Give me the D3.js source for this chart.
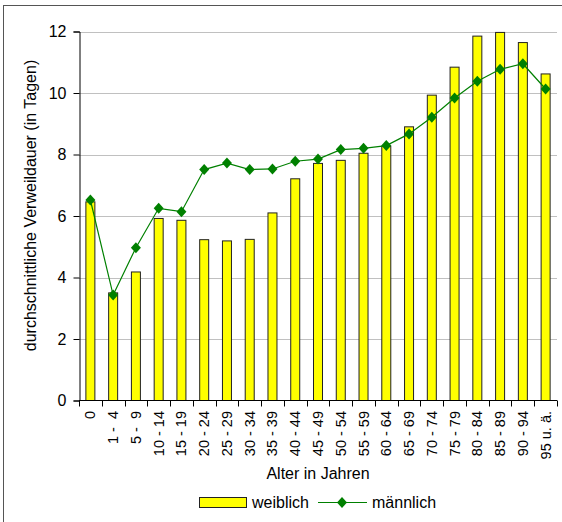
<!DOCTYPE html>
<html><head><meta charset="utf-8">
<script src="https://cdn.jsdelivr.net/npm/d3@7"></script>
<style>body{margin:0;background:#fff}svg{display:block;font-family:"Liberation Sans",Arial,sans-serif}</style>
</head><body><svg id="c" width="562" height="522"></svg>
<script>
const categories = ["0","1 -  4","5 -  9","10 - 14","15 - 19","20 - 24","25 - 29","30 - 34","35 - 39","40 - 44","45 - 49","50 - 54","55 - 59","60 - 64","65 - 69","70 - 74","75 - 79","80 - 84","85 - 89","90 - 94","95 u. ä."];
const weiblich = [6.46,3.5,4.18,5.92,5.86,5.23,5.19,5.24,6.1,7.21,7.71,7.81,8.04,8.27,8.9,9.93,10.84,11.85,11.97,11.64,10.62];
const maennlich = [6.52,3.43,4.97,6.25,6.14,7.51,7.72,7.51,7.53,7.78,7.85,8.16,8.2,8.29,8.67,9.21,9.84,10.38,10.77,10.95,10.13];
const yTicks = [0,2,4,6,8,10,12];
const seriesNames = ["weiblich","männlich"];

const svg = d3.select("#c");
const L=79, R=557, T=31.5, B=400.5;
const x = d3.scaleBand().domain(categories).range([L,R]).paddingInner(0).paddingOuter(0);
const y = d3.scaleLinear().domain([0,12]).range([B,T]);

// outer frame
svg.append("rect").attr("x",3.5).attr("y",5.5).attr("width",700).attr("height",600)
  .attr("fill","none").attr("stroke","#555").attr("stroke-width",1);

// gridlines
svg.append("g").selectAll("line").data(yTicks.filter(d=>d>0)).join("line")
  .attr("x1",L).attr("x2",R).attr("y1",d=>Math.round(y(d))+0.5).attr("y2",d=>Math.round(y(d))+0.5)
  .attr("stroke","#c0c0c0").attr("stroke-width",1);

// bars
const bw = 9;
svg.append("g").selectAll("rect").data(categories).join("rect")
  .attr("x",(d)=>x(d)+x.bandwidth()/2-bw/2)
  .attr("y",(d,i)=>y(weiblich[i]))
  .attr("width",bw)
  .attr("height",(d,i)=>B-y(weiblich[i]))
  .attr("fill","#ffff00").attr("stroke","#222").attr("stroke-width",1);

// y axis
const yAxis = d3.axisLeft(y).tickValues(yTicks).tickSize(6).tickPadding(7).tickFormat(d3.format("d"));
const gy = svg.append("g").attr("transform",`translate(${L+0.5},0)`).call(yAxis);
gy.select(".domain").attr("stroke","#000");
gy.selectAll(".tick line").attr("stroke","#000");
gy.selectAll("text").attr("font-size",16).attr("fill","#000").attr("font-family","Liberation Sans, Arial, sans-serif");

// x axis
const gx = svg.append("g").attr("transform",`translate(0,${B})`);
gx.append("line").attr("x1",L).attr("x2",R).attr("y1",0).attr("y2",0).attr("stroke","#000");
const bounds = categories.map(c=>x(c)).concat([R]);
gx.selectAll("line.t").data(bounds).join("line").attr("class","t")
  .attr("x1",d=>Math.round(d)+0.5).attr("x2",d=>Math.round(d)+0.5).attr("y1",0).attr("y2",6).attr("stroke","#000");
gx.selectAll("text").data(categories).join("text")
  .attr("transform",d=>`translate(${x(d)+x.bandwidth()/2+5},10.5) rotate(-90)`)
  .attr("text-anchor","end").attr("font-size",14.5).attr("fill","#000")
  .style("white-space","pre").attr("xml:space","preserve")
  .text(d=>d);

// line
const line = d3.line().x((d,i)=>x(categories[i])+x.bandwidth()/2).y(d=>y(d));
svg.append("path").datum(maennlich).attr("d",line).attr("fill","none").attr("stroke","#008000").attr("stroke-width",1.2);
const diamond = "M0,-5.5L5,0L0,5.5L-5,0Z";
svg.append("g").selectAll("path").data(maennlich).join("path")
  .attr("transform",(d,i)=>`translate(${x(categories[i])+x.bandwidth()/2},${y(d)})`)
  .attr("d",diamond).attr("fill","#008000");

// axis titles
svg.append("text").attr("transform",`translate(35.5,205.5) rotate(-90)`).attr("text-anchor","middle")
  .attr("font-size",16).attr("fill","#000").text("durchschnittliche Verweildauer (in Tagen)");
svg.append("text").attr("x",(L+R)/2).attr("y",479).attr("text-anchor","middle")
  .attr("font-size",16).attr("fill","#000").text("Alter in Jahren");

// legend
const lg = svg.append("g");
lg.append("rect").attr("x",199.5).attr("y",497.5).attr("width",47).attr("height",10).attr("fill","#ffff00").attr("stroke","#222");
lg.append("text").attr("x",252).attr("y",508).attr("font-size",16).attr("fill","#000").text(seriesNames[0]);
lg.append("line").attr("x1",318).attr("x2",367).attr("y1",502.5).attr("y2",502.5).attr("stroke","#008000").attr("stroke-width",1.2);
lg.append("path").attr("transform","translate(342,502.5)").attr("d",diamond).attr("fill","#008000");
lg.append("text").attr("x",372).attr("y",508).attr("font-size",16).attr("fill","#000").text(seriesNames[1]);
</script></body></html>
